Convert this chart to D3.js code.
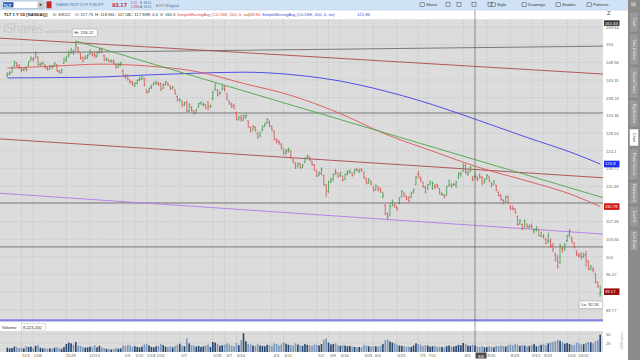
<!DOCTYPE html>
<html><head><meta charset="utf-8">
<script src="https://cdn.jsdelivr.net/npm/d3@7"></script>
<style>
html,body{margin:0;padding:0;background:#fff;}
svg{display:block;font-family:"Liberation Sans",Arial,sans-serif;}
</style></head><body>
<svg id="c" width="640" height="360"></svg>
<script>
// ---------------- DATA ----------------
const startDate = "2021-10-22", endDate = "2022-10-21";
const holidays = ["2021-11-25","2021-12-24","2022-01-17","2022-02-21","2022-04-15","2022-05-30","2022-06-20","2022-07-04","2022-09-05"];

const opens = [
144.6,145.2,145.6,147.5,148.2,147.4,146.6,146.3,146.8,147.6,
149.2,149.5,150.0,150.2,148.0,148.1,147.6,146.8,146.6,147.3,
147.6,147.8,145.9,145.4,148.3,149.1,150.6,151.5,151.9,152.0,
153.0,151.2,149.9,149.7,150.0,151.1,151.4,151.0,150.4,151.6,
152.6,150.6,149.2,149.4,148.8,149.1,148.0,147.1,147.6,146.0,
144.4,144.5,142.8,142.7,141.5,142.3,143.4,143.6,143.7,140.4,
139.9,141.2,142.0,142.2,142.5,142.3,140.9,142.0,142.4,141.6,
141.0,140.4,138.6,137.6,137.1,136.3,136.8,134.4,135.6,134.5,
134.2,135.6,136.5,136.3,136.2,136.9,135.6,137.8,140.6,140.4,
139.5,140.6,140.9,139.3,137.2,136.3,136.2,134.1,132.4,132.7,
132.0,132.8,131.9,130.1,129.6,130.2,128.6,127.9,129.4,130.6,
131.3,131.5,130.4,129.1,126.8,126.4,125.8,124.4,123.7,124.2,
124.0,121.8,121.0,120.2,120.8,120.1,121.3,122.3,122.5,121.4,
120.5,119.0,118.2,118.5,118.0,115.6,114.2,116.6,117.2,118.9,
118.4,118.0,117.9,117.1,118.5,118.8,118.6,118.4,119.5,119.0,
119.5,118.6,117.2,116.4,116.6,115.2,114.6,115.2,114.8,113.0,
111.0,109.0,108.9,111.5,111.2,110.6,111.6,113.1,113.8,113.0,
112.8,112.9,114.2,115.9,118.3,117.4,116.3,115.2,114.9,116.0,
115.0,115.6,115.8,114.9,113.5,113.4,113.4,115.6,115.9,115.8,
115.7,117.6,118.2,119.2,120.4,118.3,119.0,117.2,117.73,117.5,
118.1,117.6,116.4,117.3,117.6,116.2,116.0,115.6,114.0,113.2,
112.2,111.9,112.9,110.9,110.5,110.2,108.6,107.0,106.8,106.3,
106.9,106.2,106.6,105.4,105.6,105.7,104.3,104.4,103.6,103.4,
103.2,102.3,100.4,99.8,98.9,101.7,101.9,103.4,104.6,104.0,
102.8,101.2,100.3,100.5,100.1,100.5,99.0,97.6,97.5,96.6,
94.9,92.8];
const highs = [
145.6,145.9,147.2,149.1,148.6,148.0,147.0,147.0,147.2,149.0,
150.4,150.1,151.9,150.4,148.5,148.8,148.0,147.1,147.8,147.7,
148.6,148.0,146.3,146.6,149.9,150.5,152.1,153.0,152.4,155.12,
153.3,151.4,150.3,150.7,151.1,152.4,151.6,151.7,151.8,152.9,
153.1,150.9,150.1,149.6,149.5,149.4,148.2,148.4,148.7,146.3,
145.0,145.0,143.4,143.0,142.6,143.4,144.3,144.6,143.9,140.6,
141.1,141.9,142.9,143.1,142.8,142.6,142.3,143.0,142.6,141.8,
141.6,140.6,138.9,138.1,137.4,137.1,137.5,136.7,135.9,134.7,
135.1,136.8,137.2,136.9,136.4,137.2,136.3,140.0,142.3,140.6,
140.2,141.8,141.6,139.4,137.4,136.9,136.4,134.3,133.2,133.5,
133.5,133.7,132.0,130.4,130.7,130.4,128.9,129.0,130.6,131.4,
132.6,132.0,130.5,129.3,127.4,126.9,126.0,124.6,124.6,124.9,
124.2,122.1,121.2,121.2,121.1,120.8,122.4,123.1,122.7,121.6,
120.8,119.3,119.0,120.0,118.2,116.0,116.8,117.5,118.6,119.6,
118.7,118.9,118.0,118.5,119.3,119.5,118.8,119.6,119.9,119.6,
119.8,118.8,117.5,117.4,116.8,115.4,115.9,115.4,115.1,114.2,
111.3,109.5,111.3,112.4,111.6,110.9,112.9,114.6,114.0,113.3,
113.2,114.1,114.9,117.9,119.1,117.8,116.5,115.5,116.0,116.8,
116.6,116.0,116.0,115.0,114.1,113.6,115.6,117.0,116.2,116.3,
116.8,118.8,118.9,121.0,120.9,119.2,120.4,117.9,118.86,117.8,
118.5,117.9,117.3,118.3,117.8,116.4,116.9,115.8,114.3,113.6,
112.4,113.2,113.4,111.1,111.0,110.4,108.8,108.0,107.0,107.9,
107.0,106.8,107.0,106.0,106.4,105.9,105.3,104.7,103.9,105.1,
103.9,102.9,100.9,100.4,102.8,102.2,102.9,104.6,105.8,104.2,
103.0,101.3,100.8,100.9,100.9,101.2,99.3,98.4,98.0,96.7,
95.1,94.4];
const lows = [
144.2,144.6,145.4,147.2,147.1,146.5,145.6,145.9,145.8,147.3,
148.9,148.8,149.8,147.5,147.4,147.7,146.7,146.0,146.3,146.6,
147.3,145.8,145.2,145.3,148.1,148.7,150.0,151.1,150.8,151.9,
151.4,149.4,148.6,149.3,149.5,150.9,150.3,149.8,150.0,151.2,
151.3,149.0,148.9,148.6,148.5,148.1,146.7,147.0,147.4,144.2,
143.6,143.1,142.2,141.6,141.3,142.0,142.9,143.3,141.5,139.4,
139.6,140.7,141.8,141.9,141.6,140.2,140.8,141.7,141.6,140.4,
140.6,139.1,137.1,137.2,135.7,136.0,134.3,134.1,134.4,133.6,
133.9,135.4,136.3,135.8,135.1,134.7,135.4,137.6,140.2,138.6,
139.0,140.4,139.9,137.5,136.3,135.3,135.0,132.0,131.9,131.6,
131.9,132.4,130.1,128.8,129.3,129.0,127.2,127.5,129.1,130.2,
131.0,130.2,129.2,126.8,125.9,125.6,124.5,123.1,123.0,123.6,
122.1,121.0,119.6,119.9,119.6,119.7,121.0,122.0,121.5,120.4,
119.1,117.6,117.8,118.1,115.6,113.0,113.9,116.2,116.6,118.1,
117.5,117.7,116.6,117.0,118.0,118.5,117.7,118.3,119.0,118.6,
118.9,117.3,115.9,116.0,115.7,114.2,114.4,114.3,113.9,112.6,
108.9,107.9,108.6,110.7,110.4,109.8,111.3,112.8,112.9,112.2,
111.8,112.7,113.8,115.7,117.3,116.4,115.1,113.8,114.6,115.7,
114.6,114.8,115.0,113.6,113.2,112.6,113.2,115.4,115.1,115.5,
115.0,117.2,117.7,118.9,118.4,117.9,118.8,116.6,117.06,116.7,
117.2,115.8,116.1,117.0,116.4,115.2,115.8,114.3,113.1,112.1,
111.3,111.8,111.4,110.0,109.9,109.2,106.6,106.7,105.6,106.1,
106.0,106.0,106.0,104.8,105.3,104.3,104.1,103.8,102.6,102.8,
101.8,100.9,99.1,97.6,98.6,100.8,101.2,103.0,104.1,102.8,
101.7,100.2,99.8,99.4,99.8,98.0,97.3,97.3,96.9,94.8,
93.9,92.26];
const closes = [
145.0,145.4,146.9,148.6,147.6,147.0,146.2,146.6,146.3,148.6,
149.9,149.3,151.2,147.8,148.0,148.3,146.9,146.5,147.4,147.1,
148.3,146.0,145.6,146.2,149.6,150.1,151.4,152.5,151.2,153.8,
151.9,149.8,149.0,150.4,150.6,152.0,150.8,150.5,151.5,152.4,
151.6,149.2,149.7,148.9,149.0,148.4,146.9,148.0,148.2,144.6,
144.3,143.4,142.6,142.1,142.4,143.2,143.5,144.2,141.8,139.7,
140.8,141.6,142.6,142.4,142.0,140.5,141.9,142.8,142.0,140.8,
141.2,139.4,137.4,137.6,135.9,136.9,134.6,136.4,134.7,133.8,
134.9,136.6,136.9,136.4,135.4,135.9,136.0,139.8,141.9,139.0,
139.6,141.4,140.6,137.8,136.6,135.8,135.3,132.2,132.8,132.3,
133.2,133.4,130.3,129.0,130.4,129.3,127.4,128.7,130.3,131.1,
132.3,130.6,129.5,127.0,126.5,126.2,124.8,123.4,124.0,124.5,
122.4,121.3,119.8,120.9,119.9,120.5,122.2,122.8,121.8,120.7,
119.4,117.9,118.6,119.6,115.9,114.6,116.4,117.0,118.3,118.8,
117.8,118.6,116.9,118.2,118.9,119.1,118.0,119.4,119.3,119.4,
119.2,117.6,116.2,117.1,116.0,114.5,115.6,114.6,114.1,113.4,
109.2,108.4,110.8,111.9,111.0,110.2,112.6,114.2,113.2,112.5,
112.1,113.9,114.6,117.6,118.2,116.8,115.4,114.1,115.8,116.5,
116.1,115.3,115.4,113.8,113.6,112.9,115.3,116.7,115.4,115.9,
116.4,118.5,118.6,120.1,118.8,118.6,120.0,117.1,117.83,117.0,
117.6,116.0,116.9,118.0,116.7,115.7,116.6,114.5,113.3,112.4,
111.6,113.0,111.7,110.3,110.3,109.4,106.8,107.7,105.8,107.6,
106.4,106.5,106.3,105.7,106.2,104.5,105.0,104.2,102.9,104.4,
102.4,101.6,99.3,98.2,102.3,101.6,102.5,104.3,105.4,103.2,
102.0,100.6,100.2,100.0,100.4,99.3,97.5,98.0,97.2,95.0,
94.2,93.17];
// volume, millions
const volumes = [
12,10,11,15,13,11, 12,10,16,14,15, 11,17,19,12,10, 11,9,10,9,12, 13,10,9, 14,22,26,24,20,28,
18,17,14,12,13, 15,14,19,13,17, 12,11,9,8,7, 8,12,9,10,
18,17,20,19,15, 16,14,13,15,21, 22,18,14,13, 16,17,22,19,15,14,
16,13,17,20, 23,18,16,38,24, 19,18,15,17,14, 16,18,21,14, 28,
26,22,17,19, 20,24,21,17,16, 25,19,33,52,30, 22,21,18,17,22, 18,17,16,20,
19, 17,24,22,18,21, 27,23,20,19, 18,24,21,19,17, 22,20,19,18,21,
20,18,22,34,38, 26,21,22,24,18, 17,19,18,16,17, 15,14,13,14,13, 19,
18,16,15, 17,16,15,17,22, 33,35,29,26,24, 20,18,17,16,15, 15,14,18,
24, 22,20,16,19, 18,15,16,17,14, 15,14,13,16,18, 16,15,17,20,19,
25,22,18,17,20, 18,15,14,16,13, 14,16,15,13,17, 16,18,17,15,19, 20,19,22,
21,17, 19,18,16,17, 19,22,16,18,20, 21,19,24,26,28, 30,34,31,27,23,
25,22,20,19,26, 24,21,22,25,28, 27,24,30,33,48];

// moving averages (bar index -> value)
const smaIdx = [0,20,40,60,80,100,120,140,160,180,200,220,240,251];
const sma100 = [146.8,147.4,148.0,147.4,145.8,142.3,138.9,134.1,128.4,124.0,119.9,116.7,113.3,110.78];
const sma200 = [143.9,144.0,144.2,144.8,145.3,145.6,144.9,143.1,140.1,136.3,131.9,127.5,123.4,120.8];

// drawn lines: [barIndex, price] anchors
const lineUpperRed = [[0,155.9],[251,145.1]];
const lineMidRed   = [[0,127.0],[251,117.5]];
const linePurple   = [[0,113.7],[251,104.8]];
const lineGreen    = [[29,155.12],[251,113.0]];
const lineTopGray  = [[0,151.4],[251,153.5]];
const grayLevels   = [134.0, 111.6, 102.05];
const blueLevel    = 87.9;

const priceTicks = [89.77,93.06,96.47,100,103.66,107.46,111.4,115.48,119.71,124.1,128.64,133.36,138.24,143.31,148.56,154,159.64];
const priceTickLabels = ["89.77","93.06","96.47","100","103.66","107.46","111.4","115.48","119.71","124.1","128.64","133.36","138.24","143.31","148.56","154","159.64"];
const volTicks = [25,50];
const dateTicks = ["2021-11-01","2021-11-08","2021-11-29","2021-12-13","2022-01-03","2022-01-10","2022-01-18","2022-01-24","2022-02-07","2022-02-28","2022-03-07","2022-03-14","2022-04-04","2022-04-11","2022-05-02","2022-05-09","2022-05-16","2022-05-31","2022-06-06","2022-06-21","2022-07-05","2022-07-11","2022-08-01","2022-08-15","2022-08-29","2022-09-12","2022-09-19","2022-10-03","2022-10-10"];
const crossDate = "2022-08-08";

// ---------------- BUILD ----------------
const parse = d3.utcParse("%Y-%m-%d"), fmt = d3.utcFormat("%Y-%m-%d"), lab = d3.utcFormat("%-m/%-d");
const dates = d3.utcDays(parse(startDate), d3.utcDay.offset(parse(endDate),1))
  .filter(d => d.getUTCDay()%6!==0 && !holidays.includes(fmt(d)));
const dateKeys = dates.map(fmt);
const idxOf = s => dateKeys.indexOf(s);

const svg = d3.select("#c");
const P = {l:0, r:603, t:20, b:322};
const x = d3.scaleLinear().domain([0, dates.length-1]).range([7.3, 600.2]);
const y = d3.scaleLog().domain([87.6,161.9]).range([P.b, P.t]);
const yv = d3.scaleLinear().domain([0,50]).range([352,334]);
const FS = 4.2;

// backgrounds
svg.append("rect").attr("width",640).attr("height",360).attr("fill","#fff");
svg.append("rect").attr("x",0).attr("y",0).attr("width",640).attr("height",10).attr("fill","#d0e3f6");
svg.append("line").attr("x1",0).attr("x2",628).attr("y1",10).attr("y2",10).attr("stroke","#b9cde2").attr("stroke-width",0.6);
svg.append("line").attr("x1",0).attr("x2",603).attr("y1",19.7).attr("y2",19.7).attr("stroke","#c8c8c8").attr("stroke-width",0.6);
svg.append("rect").attr("x",P.l).attr("y",P.t).attr("width",P.r-P.l).attr("height",P.b-P.t).attr("fill","#dcdcdc");
svg.append("rect").attr("x",0).attr("y",331).attr("width",603).attr("height",21).attr("fill","#dcdcdc");
svg.append("rect").attr("x",628).attr("y",0).attr("width",12).attr("height",360).attr("fill","#8c8c8c");

// grid
const gGrid = svg.append("g").attr("stroke","#a9a9a9").attr("stroke-width",0.5).attr("stroke-dasharray","1,1.6");
priceTicks.forEach(v => gGrid.append("line").attr("x1",0).attr("x2",603).attr("y1",y(v)).attr("y2",y(v)));
volTicks.forEach(v => gGrid.append("line").attr("x1",0).attr("x2",603).attr("y1",yv(v)).attr("y2",yv(v)));
const tickIdx = dateTicks.map(idxOf);
tickIdx.forEach(i => {
  gGrid.append("line").attr("x1",x(i)).attr("x2",x(i)).attr("y1",P.t).attr("y2",P.b);
  gGrid.append("line").attr("x1",x(i)).attr("x2",x(i)).attr("y1",331).attr("y2",352);
});

// watermark
svg.append("text").attr("x",3).attr("y",33).attr("font-size",13).attr("fill","#c6c6c6").attr("font-family","Lato, 'Liberation Sans'").text("iShares");
svg.append("text").attr("x",45.5).attr("y",33).attr("font-size",3.6).attr("fill","#b8b8b8").text("by BLACKROCK");

// clip for price pane
svg.append("clipPath").attr("id","pc").append("rect").attr("x",P.l).attr("y",P.t).attr("width",P.r-P.l).attr("height",P.b-P.t);
const gP = svg.append("g").attr("clip-path","url(#pc)");

function drawLine(anchors, color, w, fromStart){
  const [a,b] = anchors;
  const x1=x(a[0]), y1=y(a[1]), x2=x(b[0]), y2=y(b[1]);
  const s=(y2-y1)/(x2-x1);
  const xs = fromStart ? x1 : P.l, xe = P.r;
  gP.append("line").attr("x1",xs).attr("y1",y1+(xs-x1)*s).attr("x2",xe).attr("y2",y1+(xe-x1)*s)
    .attr("stroke",color).attr("stroke-width",w);
}
drawLine(lineTopGray,"#6e6e6e",0.9,false);
grayLevels.forEach(v => gP.append("line").attr("x1",P.l).attr("x2",P.r).attr("y1",y(v)).attr("y2",y(v)).attr("stroke","#6e6e6e").attr("stroke-width",0.9));
drawLine(lineUpperRed,"#a94a4a",0.9,false);
drawLine(lineMidRed,"#a84848",0.9,false);
drawLine(linePurple,"#b07ae8",0.9,false);
gP.append("line").attr("x1",P.l).attr("x2",P.r).attr("y1",y(blueLevel)).attr("y2",y(blueLevel)).attr("stroke","#8282e6").attr("stroke-width",2);

// SMAs
const smaLine = vals => d3.line().x((d,i)=>x(smaIdx[i])).y(d=>y(d)).curve(d3.curveMonotoneX)(vals);
gP.append("path").attr("d",smaLine(sma200)).attr("fill","none").attr("stroke","#3e3ee6").attr("stroke-width",0.9);
gP.append("path").attr("d",smaLine(sma100)).attr("fill","none").attr("stroke","#dd5555").attr("stroke-width",0.9);
drawLine(lineGreen,"#4aa64a",0.9,true);

// OHLC bars
const up = "#3f9c48", dn = "#d05050";
const gB = gP.append("g").attr("stroke-width",0.8);
closes.forEach((c,i) => {
  const col = c >= opens[i] ? up : dn, xi = x(i);
  gB.append("line").attr("x1",xi).attr("x2",xi).attr("y1",y(highs[i])).attr("y2",y(lows[i])).attr("stroke",col);
  gB.append("line").attr("x1",xi-1.1).attr("x2",xi).attr("y1",y(opens[i])).attr("y2",y(opens[i])).attr("stroke",col);
  gB.append("line").attr("x1",xi).attr("x2",xi+1.1).attr("y1",y(c)).attr("y2",y(c)).attr("stroke",col);
});

// volume bars
volumes.forEach((v,i) => {
  svg.append("rect").attr("x",x(i)-0.8).attr("width",1.6).attr("y",yv(v)).attr("height",yv(0)-yv(v))
    .attr("fill", closes[i] >= opens[i] ? "#27466e" : "#7c97ba");
});

// crosshair
const ci = idxOf(crossDate);
svg.append("line").attr("x1",x(ci)).attr("x2",x(ci)).attr("y1",10).attr("y2",352).attr("stroke","#555").attr("stroke-width",0.6);

// Hi / Lo callouts
const hiI = highs.indexOf(d3.max(highs)), loI = lows.indexOf(d3.min(lows));
svg.append("rect").attr("x",x(hiI)-3.5).attr("y",y(highs[hiI])-12).attr("width",25).attr("height",7.5).attr("fill","#fff").attr("stroke","#999").attr("stroke-width",0.5).attr("rx",1);
svg.append("text").attr("x",x(hiI)-1.5).attr("y",y(highs[hiI])-6.8).attr("font-size",FS).attr("fill","#333").text("Hi: " + d3.max(highs).toFixed(2));
svg.append("rect").attr("x",x(loI)-21).attr("y",y(lows[loI])+4.5).attr("width",23.5).attr("height",7.5).attr("fill","#fff").attr("stroke","#999").attr("stroke-width",0.5).attr("rx",1);
svg.append("text").attr("x",x(loI)-19).attr("y",y(lows[loI])+9.8).attr("font-size",FS).attr("fill","#333").text("Lo: " + d3.min(lows).toFixed(2));

// right-side value tags
const tags = [[sma200[sma200.length-1], "120.8", "#1a2cf0"], [sma100[sma100.length-1], "110.78", "#d01818"], [closes[closes.length-1], "93.17", "#9c0e0e"]];

// right price axis (labels hidden where a tag covers them)
const ax = svg.append("g").attr("transform","translate(603,0)")
  .call(d3.axisRight(y).tickValues(priceTicks).tickFormat((d,i)=>priceTickLabels[i]).tickSize(0).tickPadding(3));
ax.select(".domain").remove();
ax.selectAll("text").attr("font-size",FS).attr("fill","#666").attr("font-family","'Liberation Sans',Arial");
ax.selectAll(".tick").filter(d => tags.some(t => Math.abs(y(t[0]) - y(d)) < 4.2)).remove();
const vax = svg.append("g").attr("transform","translate(603,0)")
  .call(d3.axisRight(yv).tickValues(volTicks).tickSize(0).tickPadding(3));
vax.select(".domain").remove();
vax.selectAll("text").attr("font-size",FS).attr("fill","#666").attr("font-family","'Liberation Sans',Arial");

tags.forEach(([v, text, bg]) => {
  svg.append("rect").attr("x",604).attr("y",y(v)-3.3).attr("width",15.5).attr("height",6.6).attr("fill",bg);
  svg.append("text").attr("x",605).attr("y",y(v)+1.5).attr("font-size",FS).attr("fill","#fff").text(text);
});
svg.append("rect").attr("x",604).attr("y",20.3).attr("width",15.5).attr("height",5.6).attr("fill","#3a3a3a");
svg.append("text").attr("x",605).attr("y",24.6).attr("font-size",FS).attr("fill","#fff").text("161.63");
svg.append("text").attr("x",607).attr("y",15).attr("font-size",6).attr("fill","#555").text("Z");

// date axis
const dax = svg.append("g").attr("transform","translate(0,352)")
  .call(d3.axisBottom(x).tickValues(tickIdx).tickFormat((d,i)=>lab(parse(dateTicks[i]))).tickSize(0).tickPadding(2.4));
dax.select(".domain").remove();
dax.selectAll("text").attr("font-size",FS).attr("fill","#666").attr("dx",4).attr("font-family","'Liberation Sans',Arial");
svg.append("rect").attr("x",x(ci)+0.5).attr("y",352.5).attr("width",11).attr("height",6).attr("fill","#4a4a4a");
svg.append("text").attr("x",x(ci)+6).attr("y",357.6).attr("font-size",FS).attr("fill","#fff").attr("text-anchor","middle").text(lab(parse(crossDate)));

// volume label
svg.append("text").attr("x",2).attr("y",328.6).attr("font-size",FS).attr("fill","#333").text("Volume:");
svg.append("rect").attr("x",21.5).attr("y",323.5).attr("width",24).attr("height",6.5).attr("fill","#fff").attr("stroke","#bbb").attr("stroke-width",0.5);
svg.append("text").attr("x",23).attr("y",328.6).attr("font-size",FS).attr("fill","#333").text("8,223,200");
svg.append("text").attr("transform","translate(623,350) rotate(-90)").attr("font-size",3.6).attr("fill","#999").text("US/Eastern");

// ---------- header ----------
const h = svg.append("g").attr("font-size",FS);
h.append("rect").attr("x",2).attr("y",1).attr("width",42).attr("height",7.5).attr("fill","#fff").attr("stroke","#8aa0b8").attr("stroke-width",0.5);
h.append("rect").attr("x",3).attr("y",2.2).attr("width",10.5).attr("height",5.2).attr("fill","#2c5fb3");
h.append("text").attr("x",3.6).attr("y",6.5).attr("fill","#fff").attr("font-weight","bold").text("TLT");
h.append("rect").attr("x",37.5).attr("y",1.6).attr("width",6).attr("height",6.3).attr("fill","#c4c4c4");
h.append("path").attr("d","M39,4 L42,4 L40.5,6 Z").attr("fill","#444");
h.append("rect").attr("x",46.5).attr("y",1.3).attr("width",5).attr("height",7).attr("fill","#c62a22");
h.append("text").attr("x",56).attr("y",6.4).attr("font-size",2.9).attr("fill","#4c6f9a").text("ISHARES TRUST 20 YR TR BD ETF");
h.append("text").attr("x",112).attr("y",7.3).attr("font-size",6).attr("font-weight","bold").attr("fill","#c0302a").text("93.17");
h.append("text").attr("x",130).attr("y",4.4).attr("font-size",3).attr("fill","#c0302a").text("-1.21");
h.append("text").attr("x",130).attr("y",8.2).attr("font-size",3).attr("fill","#c0302a").text("-1.28%");
h.append("text").attr("x",140).attr("y",4.4).attr("font-size",3).attr("fill","#3a6ea5").text("B: 93.00");
h.append("text").attr("x",140).attr("y",8.2).attr("font-size",3).attr("fill","#3a6ea5").text("A: 93.03");
h.append("text").attr("x",156).attr("y",6.6).attr("fill","#777").text("EXTO");
h.append("text").attr("x",167).attr("y",6.6).attr("fill","#3a6ea5").text("Digital");
[["Share",426],["Style",497],["Drawings",528],["Studies",562],["Patterns",593]].forEach(([t,xx]) => {
  h.append("rect").attr("x",xx-6).attr("y",2.8).attr("width",4.2).attr("height",3.6).attr("fill","none").attr("stroke","#444").attr("stroke-width",0.5);
  h.append("text").attr("x",xx).attr("y",6.4).attr("fill","#333").text(t);
});
[446,457,472,488].forEach(xx => h.append("rect").attr("x",xx).attr("y",2.6).attr("width",4).attr("height",4).attr("fill","none").attr("stroke","#444").attr("stroke-width",0.5));
[0,1.4,2.8].forEach(dy => h.append("line").attr("x1",631).attr("x2",636).attr("y1",3+dy).attr("y2",3+dy).attr("stroke","#eee").attr("stroke-width",0.6));

const info = [["TLT 1 Y 1D [NASDAQ]",4,"#222","bold"],["D: 8/8/22",53,"#333"],["O: 117.73",75,"#333"],["H: 118.86",95,"#333"],
 ["L: 117.06",113,"#333"],["C: 117.83",129,"#333"],["R: 0.5",147,"#333"],["V: 160.3",160,"#333"],
 ["SimpleMovingAvg (CLOSE, 100, 0, no)",177,"#cc4b4b"],["118.86",248,"#cc4b4b"],
 ["SimpleMovingAvg (CLOSE, 200, 0, no)",262,"#4a4ad0"],["121.86",357,"#4a4ad0"]];
info.forEach(([t,xx,c,w]) => h.append("text").attr("x",xx).attr("y",16.4).attr("fill",c).attr("font-weight",w||"normal").text(t));

// right side tabs
const tabs = [["Trade",12,32],["Time & Sales",34,65],["Social Trader",67,98],["Big Buttons",100,127],["Chart",129,146],
  ["Phase Scores",148,180],["Dashboard",182,204],["Level II",206,227],["Live News",230,251]];
tabs.forEach(([t,a,b]) => {
  const act = t==="Chart";
  svg.append("rect").attr("x",629.5).attr("y",a).attr("width",9).attr("height",b-a).attr("fill",act?"#fff":"#9a9a9a").attr("stroke","#7a7a7a").attr("stroke-width",0.4);
  svg.append("text").attr("transform",`translate(632.5,${(a+b)/2}) rotate(90)`).attr("text-anchor","middle").attr("font-size",3.6).attr("fill",act?"#333":"#f2f2f2").text(t);
});
</script>
</body></html>
